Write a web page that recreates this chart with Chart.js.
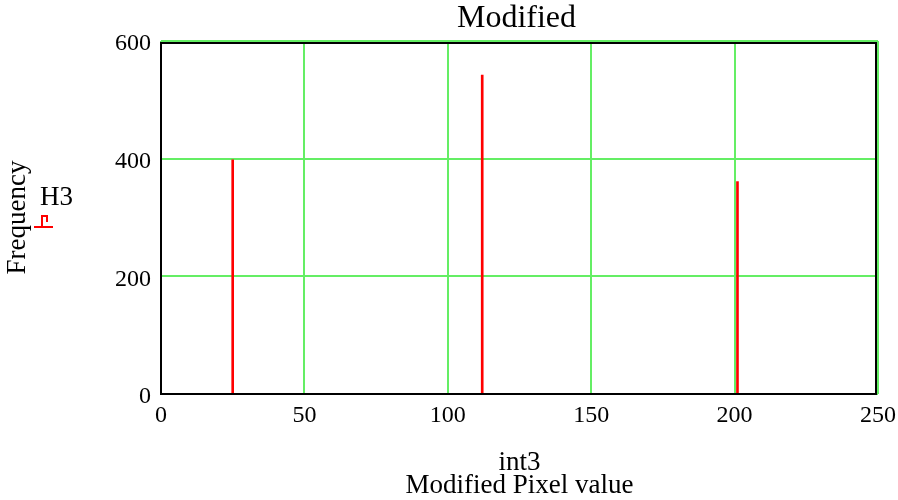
<!DOCTYPE html>
<html>
<head>
<meta charset="utf-8">
<script src="https://cdn.jsdelivr.net/npm/chart.js@4/dist/chart.umd.min.js"></script>
<style>
  html, body { margin: 0; padding: 0; background: #fff; }
  #wrap { width: 898px; height: 500px; }
</style>
</head>
<body>
<div id="wrap"><canvas id="histo-canvas" width="898" height="500"></canvas></div>
<script>
// datos del histograma (valor de pixel -> frecuencia)
const pixelValues = [25, 112, 201];
const frequencies = [398, 542, 361];
const xTicks = [0, 50, 100, 150, 200, 250];
const yTicks = [0, 200, 400, 600];
const seriesName = 'H3';
const chartTitle = 'Modified';

const SERIF = '"Liberation Serif", "Times New Roman", serif';
const GRID = 'rgb(100, 238, 100)';

// marco negro del area, titulo centrado y leyenda a la izquierda
const framePlugin = {
    id: 'frame',
    afterDatasetsDraw(chart) {
        const {ctx, chartArea: a} = chart;
        ctx.save();
        ctx.strokeStyle = '#000';
        ctx.lineWidth = 2;
        ctx.beginPath();
        ctx.moveTo(a.left, a.top + 2);
        ctx.lineTo(a.right - 2, a.top + 2);
        ctx.lineTo(a.right - 2, a.bottom);
        ctx.lineTo(a.left, a.bottom);
        ctx.closePath();
        ctx.stroke();
        ctx.restore();
    },
    afterDraw(chart) {
        const {ctx, chartArea: a} = chart;
        ctx.save();
        ctx.fillStyle = '#000';
        ctx.textAlign = 'center';
        ctx.textBaseline = 'alphabetic';
        ctx.font = '32px ' + SERIF;
        ctx.fillText(chartTitle, (a.left + a.right) / 2 - 3, 27);

        ctx.textAlign = 'left';
        ctx.font = '27px ' + SERIF;
        ctx.fillText(seriesName, 40, 205);
        ctx.strokeStyle = '#ff0000';
        ctx.lineWidth = 2;
        ctx.beginPath();
        ctx.moveTo(34, 227);
        ctx.lineTo(53, 227);
        ctx.moveTo(42, 227);
        ctx.lineTo(42, 216);
        ctx.lineTo(47, 216);
        ctx.lineTo(47, 222);
        ctx.stroke();
        ctx.restore();
    }
};

const ctx = document.getElementById('histo-canvas').getContext('2d');

const chart = new Chart(ctx, {
    type: 'bar',
    data: {
        datasets: [{
            label: seriesName,
            data: pixelValues.map((x, i) => ({x: x, y: frequencies[i]})),
            backgroundColor: '#ff0000',
            borderWidth: 0,
            barThickness: 2
        }]
    },
    options: {
        responsive: false,
        animation: false,
        layout: { padding: { left: 0, right: 20, top: 41, bottom: 0 } },
        plugins: {
            legend: { display: false },
            tooltip: { enabled: false },
            title: { display: false }
        },
        scales: {
            x: {
                type: 'linear',
                min: 0,
                max: 250,
                offset: false,
                afterBuildTicks: s => { s.ticks = xTicks.map(v => ({value: v})); },
                afterFit: s => {
                    s.height = 106;
                    s.paddingLeft = 0;
                    s.paddingRight = 0;
                },
                grid: { color: GRID, lineWidth: 2, drawTicks: false, offset: false },
                border: { display: false },
                ticks: {
                    color: '#000',
                    padding: 7,
                    font: { family: SERIF, size: 24 }
                },
                title: {
                    display: true,
                    text: ['int3', 'Modified Pixel value'],
                    color: '#000',
                    font: { family: SERIF, size: 27, lineHeight: '23px' },
                    padding: { top: 0, bottom: 3 }
                }
            },
            y: {
                min: 0,
                max: 600,
                afterBuildTicks: s => { s.ticks = yTicks.map(v => ({value: v})); },
                afterFit: s => { s.width = 161; },
                grid: { color: GRID, lineWidth: 2, drawTicks: false },
                border: { display: false },
                ticks: {
                    color: '#000',
                    padding: 10,
                    labelOffset: 3,
                    font: { family: SERIF, size: 24 }
                },
                title: {
                    display: true,
                    text: 'Frequency',
                    color: '#000',
                    font: { family: SERIF, size: 27, lineHeight: '28px' },
                    padding: { top: 4, bottom: 0 }
                }
            }
        }
    },
    plugins: [framePlugin]
});
</script>
</body>
</html>
